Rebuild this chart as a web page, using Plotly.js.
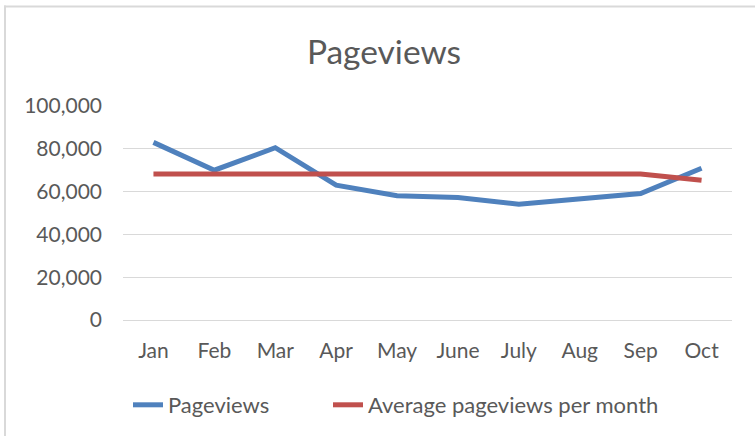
<!DOCTYPE html>
<html>
<head>
<meta charset="utf-8">
<script src="https://cdn.plot.ly/plotly-3.0.1.min.js"></script>
<style>
  html, body { margin: 0; padding: 0; background: #ffffff; }
  #chart { width: 755px; height: 436px; }
</style>
</head>
<body>
<div id="chart"></div>
<script>
// ---- data ----
var months = ['Jan', 'Feb', 'Mar', 'Apr', 'May', 'June', 'July', 'Aug', 'Sep', 'Oct'];
var pageviews = [83000, 70000, 80500, 63000, 58100, 57200, 54100, 56500, 59100, 70900];
var averagePerMonth = [68200, 68200, 68200, 68200, 68200, 68200, 68200, 68200, 68200, 65300];
var yTickValues = [0, 20000, 40000, 60000, 80000, 100000];
var yTickLabels = ['0', '20,000', '40,000', '60,000', '80,000', '100,000'];

var textColor = '#595959';
var gridColor = '#d9d9d9';
var fontFamily = 'Lato, "Open Sans", sans-serif';

var traces = [
  {
    x: months, y: pageviews, name: 'Pageviews', type: 'scatter', mode: 'lines',
    line: { color: '#4F81BD', width: 5 }, legend: 'legend'
  },
  {
    x: months, y: averagePerMonth, name: 'Average pageviews per month', type: 'scatter', mode: 'lines',
    line: { color: '#C0504D', width: 5 }, legend: 'legend2'
  }
];

// margins: plot area from x=123..732, y=106..321
var L = 123, R = 23, T = 106, B = 115;
var PW = 755 - L - R, PH = 436 - T - B;
function px(x) { return (x - L) / PW; }
function py(y) { return (436 - B - y) / PH; }

var legendFont = { family: fontFamily, size: 22, color: textColor };

var layout = {
  width: 755, height: 436,
  margin: { l: L, r: R, t: T, b: B, pad: 0 },
  paper_bgcolor: '#ffffff', plot_bgcolor: '#ffffff',
  font: { family: fontFamily, color: textColor, size: 21 },
  title: {
    text: 'Pageviews',
    font: { family: fontFamily, size: 33.5, color: textColor },
    xref: 'container', yref: 'container',
    x: 384 / 755, y: 1 - 52 / 436, xanchor: 'center', yanchor: 'middle'
  },
  xaxis: {
    type: 'category', range: [-0.5, 9.5],
    showgrid: false, zeroline: false,
    showline: false,
    ticks: '', ticklabelstandoff: 16,
    tickfont: { family: fontFamily, size: 21, color: textColor },
    fixedrange: true
  },
  yaxis: {
    range: [0, 100000],
    tickvals: yTickValues, ticktext: yTickLabels,
    showgrid: true, gridcolor: gridColor, gridwidth: 1,
    zeroline: true, zerolinecolor: gridColor, zerolinewidth: 1,
    showline: false, ticks: '', ticklabelstandoff: 20,
    tickfont: { family: fontFamily, size: 21, color: textColor },
    fixedrange: true
  },
  showlegend: true,
  legend: {
    orientation: 'h',
    x: px(128), xanchor: 'left',
    y: py(405), yanchor: 'middle',
    font: legendFont,
    bgcolor: 'rgba(0,0,0,0)',
    itemclick: false, itemdoubleclick: false
  },
  legend2: {
    orientation: 'h',
    x: px(328), xanchor: 'left',
    y: py(405), yanchor: 'middle',
    font: legendFont,
    bgcolor: 'rgba(0,0,0,0)',
    itemclick: false, itemdoubleclick: false
  },
  shapes: [
    { type: 'line', xref: 'paper', yref: 'paper', x0: px(5), x1: px(5), y0: py(440), y1: py(5),
      line: { color: gridColor, width: 2 } },
    { type: 'line', xref: 'paper', yref: 'paper', x0: px(4), x1: px(760), y0: py(6), y1: py(6),
      line: { color: gridColor, width: 2 } }
  ]
};

Plotly.newPlot('chart', traces, layout, { displayModeBar: false, staticPlot: true });
</script>
</body>
</html>
